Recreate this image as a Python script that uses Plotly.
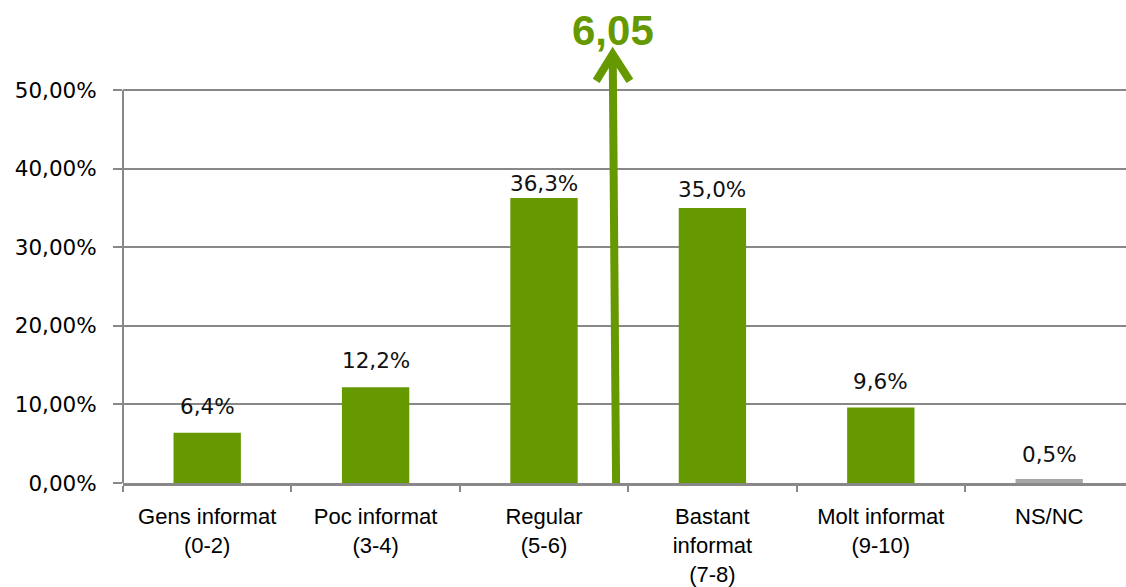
import plotly.graph_objects as go

categories = ["Gens informat<br>(0-2)", "Poc informat<br>(3-4)", "Regular<br>(5-6)",
              "Bastant<br>informat<br>(7-8)", "Molt informat<br>(9-10)", "NS/NC"]
values = [6.4, 12.2, 36.3, 35.0, 9.6, 0.5]
value_labels = ["6,4%", "12,2%", "36,3%", "35,0%", "9,6%", "0,5%"]
y_tick_vals = [0, 10, 20, 30, 40, 50]
y_tick_text = ["0,00%", "10,00%", "20,00%", "30,00%", "40,00%", "50,00%"]

# mean indicator (arrow) drawn on the category axis
mean_label = "6,05"
arrow_x = [2.428, 2.408]      # bottom, top of shaft (category units)
arrow_y = [0, 54.6]           # percent units
arrow_head_x = [2.31, 2.408, 2.51]
arrow_head_y = [51.2, 54.6, 51.2]
mean_text_y = 57.6

# style
GREEN = "#669900"
GRAY_BAR = "#A6A6A6"
GRID = "#888888"
label_shift = [12, 12, 0, 4, 12, 10]

fig = go.Figure()
fig.add_trace(go.Bar(
    x=list(range(len(categories))), y=values,
    marker=dict(color=[GREEN] * 5 + [GRAY_BAR], line=dict(width=0)),
    width=0.4, hoverinfo="skip",
))
fig.add_trace(go.Scatter(
    x=arrow_x, y=arrow_y, mode="lines",
    line=dict(color=GREEN, width=8), hoverinfo="skip",
))
fig.add_trace(go.Scatter(
    x=arrow_head_x, y=arrow_head_y, mode="lines",
    line=dict(color=GREEN, width=8), hoverinfo="skip",
))

for i, (v, t) in enumerate(zip(values, value_labels)):
    fig.add_annotation(x=i, y=v, text=t, showarrow=False, yanchor="bottom",
                       yshift=label_shift[i],
                       font=dict(family="DejaVu Sans", size=21.5, color="#111111"))

fig.add_annotation(x=arrow_x[1], y=mean_text_y, text="<b>" + mean_label + "</b>",
                   showarrow=False, xanchor="center", yanchor="middle",
                   font=dict(family="Liberation Sans, Arial", size=42, color=GREEN))

# y axis line only up to 50%
fig.add_shape(type="line", xref="paper", yref="y", x0=0, x1=0, y0=0, y1=50,
              line=dict(color=GRID, width=2), layer="above")

fig.update_layout(
    width=1126, height=587,
    margin=dict(l=123, r=0, t=0, b=104, pad=0),
    paper_bgcolor="white", plot_bgcolor="white",
    showlegend=False,
    bargap=0.6,
    xaxis=dict(
        range=[-0.5, 5.456],
        tickmode="array", tickvals=list(range(len(categories))), ticktext=categories,
        showgrid=False, zeroline=False,
        showline=True, linecolor=GRID, linewidth=3,
        ticks="",
        minor=dict(tick0=0.5, dtick=1, ticks="outside", ticklen=6, tickwidth=2,
                   tickcolor=GRID, showgrid=False),
        ticklabelstandoff=12,
        tickfont=dict(family="Liberation Sans, Arial", size=22, color="#000000"),
    ),
    yaxis=dict(
        range=[0, 61.5],
        tickmode="array", tickvals=y_tick_vals, ticktext=y_tick_text,
        showgrid=True, gridcolor=GRID, gridwidth=2,
        zeroline=False, showline=False,
        ticks="outside", ticklen=9, tickwidth=2, tickcolor=GRID,
        ticklabelstandoff=12,
        tickfont=dict(family="DejaVu Sans", size=21.5, color="#000000"),
    ),
)

fig.write_html("out.html",
               config={"displayModeBar": False},
               post_script="document.body.style.margin='0';document.body.style.overflow='hidden';")
